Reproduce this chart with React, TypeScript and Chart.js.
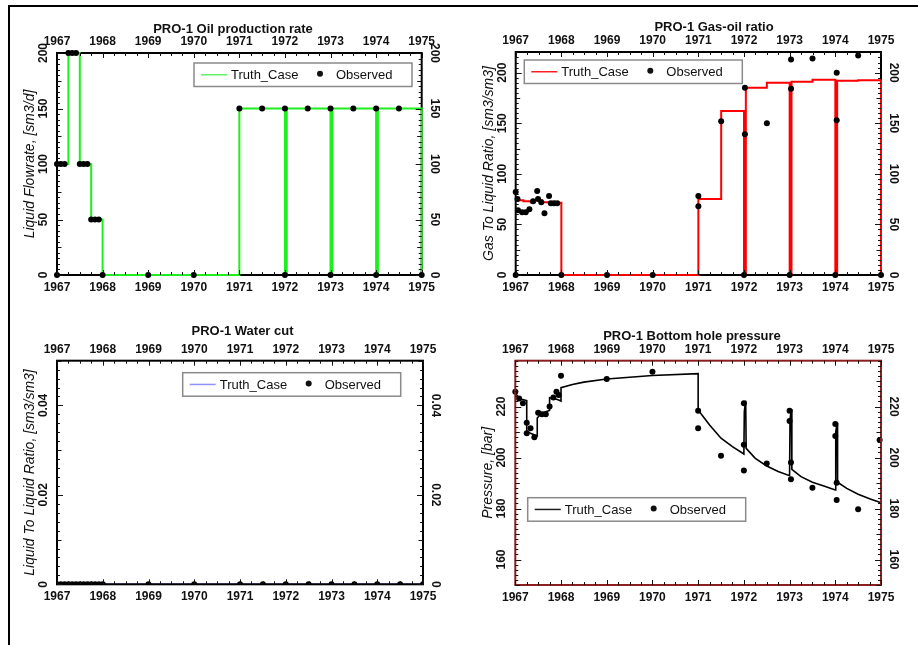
import React, { useEffect, useRef } from "react";
import { Chart, registerables } from "chart.js";

Chart.register(...registerables);

// ---------------- data ----------------
const YEAR_TICKS = [1967, 1968, 1969, 1970, 1971, 1972, 1973, 1974, 1975];
const YEAR_LABELS = ["1967", "1968", "1969", "1970", "1971", "1972", "1973", "1974", "1975"];

// Oil production rate
const OIL_TRUTH_T = [1967, 1967.25, 1967.5, 1967.75, 1968, 1971, 1972, 1972.04, 1973, 1973.04, 1974, 1974.04, 1975];
const OIL_TRUTH_V = [100, 200, 100, 50, 0, 150, 0, 150, 0, 150, 0, 150, 0];
const OIL_OBS_T = [1967, 1967, 1967.083, 1967.167, 1967.25, 1967.333, 1967.417, 1967.5, 1967.583, 1967.667, 1967.75, 1967.833, 1967.917, 1968, 1969, 1970, 1971, 1971.5, 1972, 1972, 1972.5, 1973, 1973, 1973.5, 1974, 1974, 1974.5, 1975];
const OIL_OBS_V = [0, 100, 100, 100, 200, 200, 200, 100, 100, 100, 50, 50, 50, 0, 0, 0, 150, 150, 150, 0, 150, 150, 0, 150, 150, 0, 150, 0];
const OIL_Y_TICKS = [0, 50, 100, 150, 200];
const OIL_Y_LABELS = ["0", "50", "100", "150", "200"];

// Gas-oil ratio
const GOR_TRUTH_T = [1967, 1967.17, 1967.33, 1967.42, 1967.58, 1967.75, 1968, 1971, 1971.5, 1972, 1972.04, 1972.5, 1973, 1973.04, 1973.5, 1974, 1974.04, 1974.5, 1975];
const GOR_TRUTH_V = [74, 73, 72, 74, 72, 71.5, 0, 75, 162, 0, 185, 190, 0, 191, 193, 0, 192, 192.5, 0];
const GOR_OBS_T = [1967, 1967, 1967.04, 1967.05, 1967.14, 1967.22, 1967.3, 1967.38, 1967.47, 1967.49, 1967.56, 1967.63, 1967.73, 1967.77, 1967.84, 1967.91, 1968, 1969, 1970, 1971, 1971, 1971.5, 1972, 1972.02, 1972.02, 1972.5, 1973, 1973.03, 1973.03, 1973.5, 1974, 1974.03, 1974.03, 1974.5, 1975];
const GOR_OBS_V = [0, 82, 75, 64, 62, 62, 65, 73, 83, 75, 72, 61, 78, 71, 71, 71, 0, 0, 0, 78, 68, 152, 0, 185, 139, 150, 0, 213, 184, 214, 0, 200, 153, 217, 0];
const GOR_Y_TICKS = [0, 50, 100, 150, 200];
const GOR_Y_LABELS = ["0", "50", "100", "150", "200"];

// Water cut
const WCT_TRUTH_T = [1967, 1975];
const WCT_TRUTH_V = [0, 0];
const WCT_OBS_T = [1967, 1967.083, 1967.167, 1967.25, 1967.333, 1967.417, 1967.5, 1967.583, 1967.667, 1967.75, 1967.833, 1967.917, 1968, 1969, 1970, 1971, 1971.5, 1972, 1972.5, 1973, 1973.5, 1974, 1974.5, 1975];
const WCT_OBS_V = [0, 0, 0, 0, 0, 0, 0, 0, 0, 0, 0, 0, 0, 0, 0, 0, 0, 0, 0, 0, 0, 0, 0, 0];
const WCT_Y_TICKS = [0, 0.02, 0.04];
const WCT_Y_LABELS = ["0", "0.02", "0.04"];

// Bottom hole pressure
const BHP_TRUTH_T = [1967, 1967.08, 1967.25, 1967.25, 1967.33, 1967.48, 1967.48, 1967.58, 1967.75, 1967.75, 1967.92, 1968, 1968, 1968.25, 1968.5, 1969, 1970, 1971, 1971, 1971.25, 1971.5, 1971.75, 1972, 1972.01, 1972.04, 1972.05, 1972.25, 1972.5, 1972.75, 1973, 1973.01, 1973.04, 1973.05, 1973.25, 1973.5, 1973.75, 1974, 1974.01, 1974.04, 1974.05, 1974.25, 1974.5, 1974.75, 1975];
const BHP_TRUTH_V = [225.5, 223.2, 222.3, 210.5, 209.5, 208.5, 215.5, 217.5, 218.5, 223.5, 222.8, 222.2, 227.4, 228.7, 229.6, 230.8, 232.2, 232.9, 218.7, 212.8, 207.6, 204.3, 201.4, 218, 222.3, 203.6, 199.7, 196.7, 194.5, 192.9, 215, 219, 195.4, 192.5, 190.3, 188.8, 187.3, 210, 213.7, 190.3, 187.9, 185.6, 183.8, 182.3];
const BHP_OBS_T = [1967, 1967.083, 1967.167, 1967.25, 1967.25, 1967.333, 1967.417, 1967.5, 1967.583, 1967.667, 1967.75, 1967.833, 1967.9, 1967.95, 1968, 1969, 1970, 1971, 1971, 1971.5, 1972, 1972, 1972, 1972.5, 1973, 1973, 1973.03, 1973.03, 1973.5, 1974, 1974, 1974.03, 1974.03, 1974.5, 1974.97];
const BHP_OBS_V = [225.8, 223.2, 221.3, 213.7, 209.5, 211.5, 208.0, 217.6, 217.0, 217.0, 220.0, 223.6, 225.8, 224.5, 232.1, 230.8, 233.7, 218.4, 211.5, 200.7, 221.3, 205.0, 194.9, 197.7, 218.4, 214.3, 198.1, 191.5, 188.2, 213.2, 208.5, 190.1, 183.3, 179.7, 206.9];
const BHP_Y_TICKS = [160, 180, 200, 220];
const BHP_Y_LABELS = ["160", "180", "200", "220"];

const LEGEND_LABELS = ["Truth_Case", "Observed"];

// ---------------- layout ----------------
const W = 918;
const H = 645;
const FONT = "'Liberation Sans', Arial, Helvetica, sans-serif";

type PanelCfg = {
  title: string;
  yTitle: string;
  area: [number, number, number, number];
  yMin: number;
  yMax: number;
  yTicks: number[];
  yLabels: string[];
  yMid: number;
  yMinor: number;
  color: string;
  legendColor: string;
  lineWidth: number;
  stepped: boolean;
  truthT: number[];
  truthV: number[];
  obsT: number[];
  obsV: number[];
  legend: [number, number];
  titlePos: [number, number];
  frameColor: string;
  borderOnTop: boolean;
  clip: boolean;
};

const PANELS: PanelCfg[] = [
  {
    title: "PRO-1 Oil production rate",
    yTitle: "Liquid Flowrate, [sm3/d]",
    area: [57, 53, 421.7, 275],
    yMin: 0, yMax: 200,
    yTicks: OIL_Y_TICKS, yLabels: OIL_Y_LABELS, yMid: 25, yMinor: 5,
    color: "#1fee1f", legendColor: "#66f066", lineWidth: 2, stepped: true,
    truthT: OIL_TRUTH_T, truthV: OIL_TRUTH_V, obsT: OIL_OBS_T, obsV: OIL_OBS_V,
    legend: [194, 63], titlePos: [233, 29], frameColor: "#000", borderOnTop: false, clip: false,
  },
  {
    title: "PRO-1 Gas-oil ratio",
    yTitle: "Gas To Liquid Ratio, [sm3/sm3]",
    area: [515.7, 52, 881, 275],
    yMin: 0, yMax: 220.4,
    yTicks: GOR_Y_TICKS, yLabels: GOR_Y_LABELS, yMid: 25, yMinor: 5,
    color: "#ff0000", legendColor: "#ff2020", lineWidth: 2, stepped: true,
    truthT: GOR_TRUTH_T, truthV: GOR_TRUTH_V, obsT: GOR_OBS_T, obsV: GOR_OBS_V,
    legend: [524.3, 60], titlePos: [714, 27], frameColor: "#000", borderOnTop: false, clip: false,
  },
  {
    title: "PRO-1 Water cut",
    yTitle: "Liquid To Liquid Ratio, [sm3/sm3]",
    area: [57, 360.7, 423, 584.3],
    yMin: 0, yMax: 0.05,
    yTicks: WCT_Y_TICKS, yLabels: WCT_Y_LABELS, yMid: 0.01, yMinor: 0.002,
    color: "#8080ff", legendColor: "#9090ff", lineWidth: 2, stepped: true,
    truthT: WCT_TRUTH_T, truthV: WCT_TRUTH_V, obsT: WCT_OBS_T, obsV: WCT_OBS_V,
    legend: [182.7, 372.7], titlePos: [242.5, 331.7], frameColor: "#000", borderOnTop: true, clip: true,
  },
  {
    title: "PRO-1 Bottom hole pressure",
    yTitle: "Pressure, [bar]",
    area: [515.3, 360.7, 881, 585],
    yMin: 150, yMax: 238,
    yTicks: BHP_Y_TICKS, yLabels: BHP_Y_LABELS, yMid: 10, yMinor: 2,
    color: "#000000", legendColor: "#202020", lineWidth: 1.6, stepped: false,
    truthT: BHP_TRUTH_T, truthV: BHP_TRUTH_V, obsT: BHP_OBS_T, obsV: BHP_OBS_V,
    legend: [527.7, 497.7], titlePos: [692, 336.5], frameColor: "#8b1e1e", borderOnTop: true, clip: false,
  },
];

function makeDecor(p: PanelCfg) {
  const drawBorder = (chart: any) => {
    const { ctx, chartArea } = chart;
    const { left, top, right, bottom } = chartArea;
    ctx.save();
    ctx.strokeStyle = p.frameColor;
    ctx.lineWidth = 2;
    ctx.strokeRect(left, top, right - left, bottom - top);
    ctx.restore();
  };
  return {
    id: "decor",
    beforeDatasetsDraw(chart: any) {
      if (!p.borderOnTop) drawBorder(chart);
    },
    afterDatasetsDraw(chart: any) {
      if (p.borderOnTop) drawBorder(chart);
      const { ctx, chartArea } = chart;
      const { left, top, right, bottom } = chartArea;
      const xs = chart.scales.x;
      const ys = chart.scales.y;
      ctx.save();
      ctx.strokeStyle = "#111";
      ctx.lineWidth = 1;
      ctx.beginPath();
      // x ticks
      for (let i = 0; i < YEAR_TICKS.length; i++) {
        const px = Math.round(xs.getPixelForValue(YEAR_TICKS[i])) + 0.5;
        ctx.moveTo(px, bottom); ctx.lineTo(px, bottom - 5);
        ctx.moveTo(px, top); ctx.lineTo(px, top + 5);
        if (i < YEAR_TICKS.length - 1) {
          for (const q of [0.25, 0.5, 0.75]) {
            const mx = Math.round(xs.getPixelForValue(YEAR_TICKS[i] + q)) + 0.5;
            ctx.moveTo(mx, bottom); ctx.lineTo(mx, bottom - 3);
            ctx.moveTo(mx, top); ctx.lineTo(mx, top + 3);
          }
        }
      }
      // y ticks
      const n = Math.round((p.yMax - p.yMin) / p.yMinor);
      const start = Math.ceil(p.yMin / p.yMinor - 1e-9) * p.yMinor;
      for (let k = 0; k <= n + 1; k++) {
        const v = start + k * p.yMinor;
        if (v > p.yMax + 1e-9) break;
        const py = Math.round(ys.getPixelForValue(v)) + 0.5;
        const isMajor = p.yTicks.some((t) => Math.abs(t - v) < p.yMinor / 10);
        const isMid = Math.abs(v / p.yMid - Math.round(v / p.yMid)) < 1e-6;
        const len = isMajor ? 6 : isMid ? 4.5 : 3;
        ctx.moveTo(left, py); ctx.lineTo(left + len, py);
        ctx.moveTo(right, py); ctx.lineTo(right - len, py);
      }
      ctx.stroke();

      // x labels
      ctx.fillStyle = "#111";
      ctx.font = `bold 12px ${FONT}`;
      ctx.textAlign = "center";
      ctx.textBaseline = "middle";
      for (let i = 0; i < YEAR_TICKS.length; i++) {
        const px = xs.getPixelForValue(YEAR_TICKS[i]);
        ctx.fillText(YEAR_LABELS[i], px, top - 11.5);
        ctx.fillText(YEAR_LABELS[i], px, bottom + 12.5);
      }
      // y labels rotated
      for (let i = 0; i < p.yTicks.length; i++) {
        const py = ys.getPixelForValue(p.yTicks[i]);
        ctx.save();
        ctx.translate(left - 13.5, py);
        ctx.rotate(-Math.PI / 2);
        ctx.fillText(p.yLabels[i], 0, 0);
        ctx.restore();
        ctx.save();
        ctx.translate(right + 12.5, py);
        ctx.rotate(Math.PI / 2);
        ctx.fillText(p.yLabels[i], 0, 0);
        ctx.restore();
      }
      // title
      ctx.font = `bold 13px ${FONT}`;
      ctx.fillText(p.title, p.titlePos[0], p.titlePos[1]);
      // y title
      ctx.save();
      ctx.font = `italic 14px ${FONT}`;
      ctx.translate(left - 27, (top + bottom) / 2);
      ctx.rotate(-Math.PI / 2);
      ctx.fillText(p.yTitle, 0, 0);
      ctx.restore();

      // legend
      const [lx, ly] = p.legend;
      const lw = 218;
      const lh = 23.5;
      ctx.fillStyle = "#fff";
      ctx.fillRect(lx, ly, lw, lh);
      ctx.strokeStyle = "#8a8a8a";
      ctx.lineWidth = 1.5;
      ctx.strokeRect(lx, ly, lw, lh);
      const cy = ly + lh / 2;
      ctx.strokeStyle = p.legendColor;
      ctx.lineWidth = 1.5;
      ctx.beginPath();
      ctx.moveTo(lx + 7, cy);
      ctx.lineTo(lx + 33, cy);
      ctx.stroke();
      ctx.fillStyle = "#111";
      ctx.font = `13px ${FONT}`;
      ctx.textAlign = "left";
      ctx.fillText(LEGEND_LABELS[0], lx + 37, cy + 0.5);
      ctx.beginPath();
      ctx.arc(lx + 126, cy - 1, 3, 0, Math.PI * 2);
      ctx.fill();
      ctx.fillText(LEGEND_LABELS[1], lx + 142, cy + 0.5);
      ctx.restore();
    },
  };
}

function Panel({ p }: { p: PanelCfg }) {
  const ref = useRef<HTMLCanvasElement | null>(null);
  useEffect(() => {
    if (!ref.current) return;
    const truth = p.truthT.map((t, i) => ({ x: t, y: p.truthV[i] }));
    const obs = p.obsT.map((t, i) => ({ x: t, y: p.obsV[i] }));
    const [l, t, r, b] = p.area;
    const chart = new Chart(ref.current, {
      type: "line",
      data: {
        datasets: [
          {
            label: LEGEND_LABELS[1],
            data: obs,
            showLine: false,
            pointRadius: 3,
            pointHoverRadius: 3,
            pointBackgroundColor: "#000",
            pointBorderColor: "#000",
            pointBorderWidth: 0,
            borderWidth: 0,
            order: 0,
            clip: p.clip ? undefined : false,
          } as any,
          {
            label: LEGEND_LABELS[0],
            data: truth,
            borderColor: p.color,
            borderWidth: p.lineWidth,
            pointRadius: 0,
            stepped: p.stepped,
            tension: 0,
            fill: false,
            order: 1,
            clip: p.clip ? undefined : false,
          } as any,
        ],
      },
      options: {
        responsive: false,
        animation: false,
        devicePixelRatio: 1,
        events: [],
        layout: { padding: { left: l, top: t, right: W - r, bottom: H - b } },
        plugins: { legend: { display: false }, title: { display: false }, tooltip: { enabled: false } },
        scales: {
          x: { type: "linear", min: 1967, max: 1975, display: false },
          y: { type: "linear", min: p.yMin, max: p.yMax, display: false },
        },
      },
      plugins: [makeDecor(p)],
    } as any);
    return () => chart.destroy();
  }, [p]);
  return (
    <canvas
      ref={ref}
      width={W}
      height={H}
      style={{ position: "absolute", left: 0, top: 0, width: W, height: H }}
    />
  );
}

export default function App() {
  return (
    <div style={{ position: "absolute", left: 0, top: 0, width: W, height: H, background: "#fff", overflow: "hidden" }}>
      <div style={{ position: "absolute", left: 8, top: 5, width: W - 8, height: 2, background: "#000" }} />
      <div style={{ position: "absolute", left: 8, top: 5, width: 2, height: H - 5, background: "#000" }} />
      {PANELS.map((p, i) => (
        <Panel key={i} p={p} />
      ))}
    </div>
  );
}
